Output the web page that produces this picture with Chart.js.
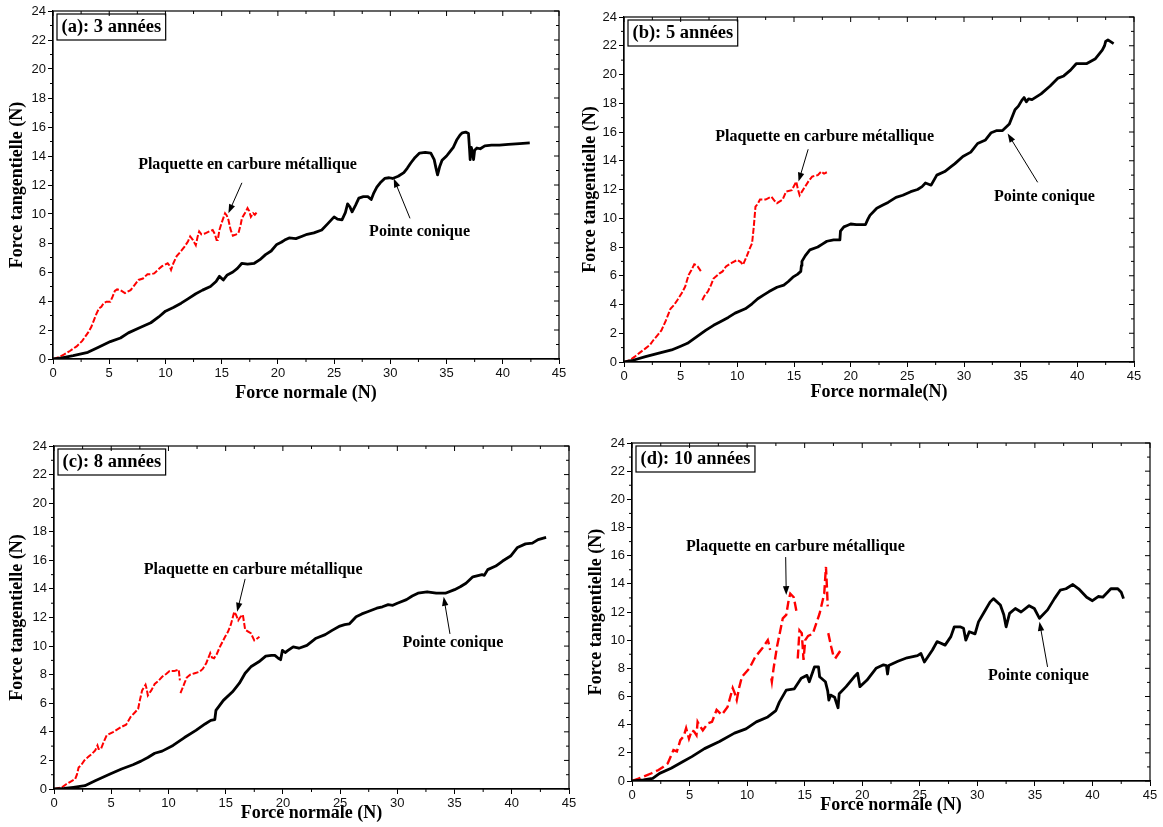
<!DOCTYPE html>
<html lang="fr">
<head>
<meta charset="utf-8">
<title>Force tangentielle en fonction de la force normale</title>
<script src="https://cdn.jsdelivr.net/npm/chart.js@4.4.1/dist/chart.umd.min.js"></script>
<style>
  html, body { margin: 0; padding: 0; background: #fff; }
  body { width: 1163px; height: 827px; position: relative; overflow: hidden; }
  canvas { position: absolute; }
</style>
</head>
<body>
<canvas id="chartA" width="580" height="410" style="left:0;top:0"></canvas>
<canvas id="chartB" width="583" height="410" style="left:580px;top:0"></canvas>
<canvas id="chartC" width="580" height="407" style="left:0;top:420px"></canvas>
<canvas id="chartD" width="583" height="407" style="left:580px;top:420px"></canvas>
<script>
// Axis ticks
const xTicks = [0, 5, 10, 15, 20, 25, 30, 35, 40, 45];
const yTicks = [0, 2, 4, 6, 8, 10, 12, 14, 16, 18, 20, 22, 24];

const panelLabels = ['(a): 3 années', '(b): 5 années', '(c): 8 années', '(d): 10 années'];
const xTitles = ['Force normale (N)', 'Force normale(N)', 'Force normale (N)', 'Force normale (N)'];
const yTitle = 'Force tangentielle (N)';
const carbideName = 'Plaquette en carbure métallique';
const coneName = 'Pointe conique';

// [force normale, force tangentielle] ; null = pen lifted
const coneA = [[0,0],[0.8,0.08],[1.8,0.23],[3.1,0.46],[4.0,0.8],[5.1,1.2],[6.0,1.45],[6.7,1.8],[7.7,2.15],[8.7,2.5],[9.4,2.9],[10,3.3],[10.7,3.55],[11.4,3.85],[12.0,4.15],[12.7,4.5],[13.3,4.75],[14.0,5.0],[14.5,5.35],[14.8,5.7],[15.15,5.45],[15.5,5.8],[16.0,6.0],[16.4,6.25],[16.8,6.6],[17.3,6.55],[17.9,6.6],[18.4,6.85],[18.9,7.2],[19.4,7.45],[19.9,7.9],[20.3,8.05],[20.6,8.2],[21.0,8.35],[21.6,8.3],[22.1,8.45],[22.6,8.6],[23.2,8.7],[23.9,8.9],[24.4,9.3],[25.0,9.8],[25.3,9.65],[25.7,9.6],[26.0,10.1],[26.2,10.7],[26.4,10.5],[26.6,10.15],[26.9,10.6],[27.2,11.1],[27.6,11.2],[28.0,11.2],[28.3,11.0],[28.5,11.4],[28.8,11.85],[29.1,12.15],[29.5,12.45],[29.9,12.5],[30.2,12.45],[30.7,12.6],[31.2,12.85],[31.5,13.15],[31.8,13.5],[32.2,13.9],[32.6,14.2],[33.1,14.25],[33.6,14.2],[33.9,13.75],[34.05,13.2],[34.2,12.7],[34.4,13.3],[34.6,13.7],[35.0,14.0],[35.2,14.2],[35.6,14.6],[35.9,15.1],[36.2,15.45],[36.4,15.6],[36.7,15.65],[36.95,15.55],[37.05,14.4],[37.1,13.75],[37.2,14.6],[37.3,14.3],[37.4,13.75],[37.5,14.4],[37.7,14.55],[38.0,14.5],[38.4,14.7],[39.0,14.75],[39.7,14.75],[40.5,14.8],[41.5,14.85],[42.4,14.9]];
const carbideA = [[0,0],[0.5,0.12],[0.96,0.3],[1.5,0.55],[2.1,0.87],[2.6,1.25],[3.1,1.8],[3.4,2.2],[3.6,2.6],[3.85,3.1],[4.1,3.5],[4.3,3.6],[4.5,3.85],[4.75,3.95],[5.1,3.95],[5.3,4.3],[5.5,4.7],[5.7,4.8],[6.0,4.75],[6.4,4.55],[6.9,4.75],[7.2,5.05],[7.6,5.45],[8.0,5.55],[8.4,5.85],[8.7,5.85],[9.0,5.9],[9.4,6.2],[9.7,6.4],[10.2,6.6],[10.35,6.45],[10.5,6.15],[10.7,6.6],[11.0,7.1],[11.4,7.45],[11.7,7.75],[12.0,8.1],[12.2,8.45],[12.45,8.2],[12.7,7.85],[12.85,8.4],[13.0,8.8],[13.2,8.6],[13.5,8.65],[13.9,8.8],[14.2,8.9],[14.4,8.6],[14.55,8.2],[14.65,8.2],[14.8,8.9],[15.0,9.4],[15.3,10.05],[15.45,9.9],[15.6,9.6],[15.8,8.9],[16.0,8.5],[16.3,8.6],[16.5,8.7],[16.7,9.3],[16.8,9.7],[17.1,10.1],[17.3,10.4],[17.45,10.2],[17.6,9.8],[17.8,10.05],[17.95,9.95],[18.1,10.1]];

const coneB = [[0,0],[0.8,0.12],[1.9,0.37],[3.0,0.6],[4.2,0.84],[5.0,1.1],[5.6,1.3],[6.4,1.75],[7.2,2.2],[7.9,2.55],[8.5,2.8],[9.2,3.1],[9.8,3.4],[10.7,3.7],[11.3,4.05],[11.8,4.4],[12.3,4.65],[12.8,4.9],[13.5,5.2],[14.1,5.35],[14.5,5.6],[14.9,5.9],[15.3,6.1],[15.6,6.3],[15.65,6.7],[15.7,7.0],[16.0,7.4],[16.4,7.8],[17.1,8.0],[17.5,8.2],[17.9,8.4],[18.5,8.5],[19.05,8.5],[19.1,9.1],[19.4,9.4],[19.7,9.5],[20.0,9.6],[20.5,9.55],[21.0,9.55],[21.3,9.55],[21.5,9.9],[21.7,10.2],[22.3,10.7],[22.8,10.9],[23.3,11.1],[24.0,11.45],[24.6,11.6],[25.3,11.85],[25.9,12.0],[26.3,12.2],[26.6,12.45],[27.1,12.3],[27.6,13.0],[28.3,13.25],[28.8,13.55],[29.2,13.8],[29.9,14.3],[30.6,14.6],[31.2,15.2],[31.9,15.45],[32.4,15.95],[32.9,16.1],[33.4,16.1],[34.0,16.55],[34.5,17.55],[34.8,17.8],[35.1,18.2],[35.3,18.4],[35.5,18.1],[35.7,18.3],[36.0,18.25],[36.8,18.65],[37.6,19.2],[38.3,19.75],[38.8,19.9],[39.4,20.3],[39.9,20.75],[40.4,20.75],[40.8,20.75],[41.6,21.1],[42.2,21.7],[42.4,22.0],[42.5,22.3],[42.7,22.4],[42.9,22.3],[43.2,22.15]];
const carbideB = [[0,0],[0.5,0.12],[0.95,0.37],[1.4,0.65],[1.9,0.95],[2.3,1.2],[2.6,1.53],[3.0,1.9],[3.3,2.2],[3.7,2.9],[4.1,3.7],[4.4,3.95],[4.7,4.3],[5.1,4.8],[5.4,5.25],[5.7,6.05],[5.95,6.4],[6.2,6.8],[6.35,6.75],[6.5,6.65],[6.8,6.3],[6.85,null],[6.9,4.3],[7.1,4.6],[7.4,4.9],[7.7,5.4],[7.9,5.8],[8.4,6.15],[8.7,6.3],[9.0,6.65],[9.5,6.9],[10.0,7.1],[10.3,6.95],[10.5,6.75],[10.8,7.3],[11.1,7.9],[11.3,8.25],[11.45,9.4],[11.6,10.8],[11.8,11.0],[12.0,11.3],[12.5,11.3],[13.0,11.5],[13.3,11.2],[13.5,11.05],[14.0,11.3],[14.3,11.85],[14.8,11.95],[15.2,12.55],[15.35,12.0],[15.5,11.6],[15.7,11.85],[15.9,12.1],[16.3,12.6],[16.6,12.9],[17.1,13.0],[17.4,13.25],[17.65,13.1],[17.9,13.2]];

const coneC = [[0,0],[0.9,0.04],[1.7,0.12],[2.7,0.23],[3.6,0.58],[4.9,1.05],[5.9,1.4],[6.9,1.7],[7.6,1.95],[8.2,2.2],[8.8,2.5],[9.45,2.65],[10.4,3.05],[11.4,3.6],[12.4,4.1],[13.2,4.55],[13.7,4.8],[14.05,4.85],[14.15,5.5],[14.8,6.2],[15.6,6.8],[16.2,7.4],[16.7,8.1],[17.2,8.55],[17.9,8.9],[18.5,9.3],[19.0,9.35],[19.3,9.35],[19.6,9.15],[19.8,9.05],[19.96,9.7],[20.2,9.55],[20.45,9.7],[20.9,9.95],[21.4,9.85],[22.1,10.05],[22.9,10.55],[23.7,10.8],[24.3,11.1],[24.98,11.4],[25.4,11.5],[25.8,11.55],[26.4,12.05],[26.9,12.25],[27.4,12.4],[28.2,12.65],[28.7,12.75],[29.2,12.9],[29.6,12.85],[30.0,13.0],[30.8,13.25],[31.3,13.5],[31.8,13.7],[32.6,13.8],[33.4,13.7],[34.2,13.7],[35.0,13.95],[35.5,14.15],[36.0,14.4],[36.6,14.85],[37.4,15.0],[37.6,14.95],[37.9,15.35],[38.6,15.6],[39.2,15.95],[39.9,16.3],[40.5,16.9],[41.2,17.15],[41.8,17.2],[42.3,17.45],[43.0,17.6]];
const carbideC = [[0,0],[0.3,0.05],[0.7,0.12],[1.0,0.3],[1.35,0.47],[1.85,0.7],[2.0,1.0],[2.15,1.5],[2.4,1.7],[2.65,2.0],[3.0,2.25],[3.3,2.45],[3.6,2.7],[3.8,3.05],[3.9,2.8],[4.1,2.8],[4.35,3.3],[4.6,3.75],[5.2,4.0],[5.9,4.35],[6.3,4.5],[6.7,5.05],[7.0,5.3],[7.35,5.6],[7.5,6.2],[7.7,6.9],[8.0,7.3],[8.1,7.0],[8.2,6.55],[8.5,6.9],[8.8,7.35],[9.1,7.55],[9.45,7.85],[9.8,8.05],[10.1,8.25],[10.5,8.25],[10.9,8.35],[11.0,7.6],[11.02,null],[11.05,6.7],[11.4,7.4],[11.6,7.8],[11.9,8.0],[12.3,8.1],[12.7,8.2],[13.0,8.4],[13.3,8.8],[13.65,9.5],[13.8,9.2],[13.98,9.15],[14.2,9.4],[14.5,9.95],[14.95,10.65],[15.2,11.0],[15.45,11.5],[15.75,12.4],[15.9,12.2],[16.1,11.8],[16.3,12.05],[16.5,12.2],[16.7,11.15],[17.0,11.0],[17.2,10.9],[17.5,10.4],[17.7,10.5],[17.95,10.65]];

const coneD = [[0,0],[1.0,0.08],[1.8,0.19],[2.4,0.54],[3.4,0.9],[4.4,1.37],[5.2,1.73],[6.3,2.3],[7.6,2.8],[8.9,3.4],[9.9,3.7],[10.8,4.2],[11.8,4.55],[12.5,5.0],[12.8,5.6],[13.4,6.45],[14.1,6.55],[14.7,7.3],[15.2,7.5],[15.4,7.05],[15.85,8.1],[16.2,8.1],[16.3,7.4],[16.8,7.05],[17.0,6.4],[17.1,5.75],[17.25,6.1],[17.6,5.95],[17.9,5.2],[18.0,6.2],[18.6,6.7],[19.3,7.4],[19.6,7.65],[19.8,6.7],[20.4,7.15],[21.2,8.0],[21.85,8.25],[22.1,8.2],[22.2,7.6],[22.3,8.2],[23.1,8.5],[23.9,8.75],[24.8,8.9],[25.1,9.05],[25.4,8.45],[26.1,9.3],[26.5,9.9],[27.2,9.65],[27.7,10.25],[28.0,10.95],[28.5,10.95],[28.8,10.85],[29.0,10.0],[29.3,10.6],[29.8,10.45],[30.1,11.3],[30.6,12.0],[31.1,12.7],[31.4,12.95],[32.0,12.5],[32.3,11.8],[32.5,10.95],[32.8,11.9],[33.3,12.25],[33.8,12.0],[34.5,12.45],[34.95,12.25],[35.4,11.55],[36.1,12.15],[36.7,12.95],[37.2,13.55],[37.7,13.65],[38.3,13.95],[38.8,13.65],[39.5,13.05],[40.0,12.8],[40.5,13.1],[40.9,13.05],[41.6,13.65],[42.2,13.65],[42.5,13.4],[42.7,12.95]];
const carbideD = [[0,0],[0.5,0.15],[1.1,0.35],[1.7,0.55],[2.3,0.78],[2.7,1.0],[3.1,1.25],[3.4,1.8],[3.6,2.2],[3.9,2.1],[4.2,2.9],[4.5,3.2],[4.7,3.75],[4.85,3.3],[4.95,3.0],[5.2,3.6],[5.4,3.5],[5.6,3.25],[5.7,4.2],[5.9,3.9],[6.15,3.6],[6.6,4.1],[6.95,4.2],[7.35,5.05],[7.8,4.7],[8.3,5.25],[8.75,6.6],[8.9,6.3],[9.1,5.75],[9.3,6.6],[9.55,7.4],[10.2,8.0],[10.7,8.8],[11.3,9.4],[11.8,10.0],[11.9,9.7],[12.0,9.3],[12.05,null],[12.1,7.3],[12.15,7.05],[12.3,8.0],[12.6,9.55],[13.1,11.55],[13.4,11.8],[13.6,12.8],[13.75,13.3],[14.05,13.05],[14.3,12.0],[14.35,null],[14.4,8.7],[14.55,10.7],[14.75,10.5],[14.9,8.6],[15.05,10.0],[15.3,10.3],[15.7,10.45],[16.3,11.9],[16.7,13.3],[16.8,14.6],[16.85,15.2],[16.95,13.5],[17.0,12.4],[17.02,null],[17.05,10.5],[17.3,9.55],[17.55,8.7],[17.6,null],[17.65,8.7],[18.1,9.25]];

// canvas layout, annotation anchors (data units) and dash style per panel
const panels = [
  { id: 'chartA', cone: coneA, carbide: carbideA, dash: [6, 2], redWidth: 2,
    pad: { top: 11, right: 21 }, yWidth: 53, xHeight: 51, yTitlePad: 7, xTitlePad: 6,
    carbideNote: { text: [17.3, 13.4], from: [16.8, 12.15], to: [15.6, 10.05] },
    coneNote: { text: [32.6, 8.8], from: [31.75, 9.7], to: [30.3, 12.45] } },
  { id: 'chartB', cone: coneB, carbide: carbideB, dash: [6, 2], redWidth: 2,
    pad: { top: 17, right: 29 }, yWidth: 44, xHeight: 48, yTitlePad: 0, xTitlePad: 7,
    carbideNote: { text: [17.7, 15.65], from: [16.25, 14.8], to: [15.4, 12.55] },
    coneNote: { text: [37.1, 11.5], from: [36.5, 12.5], to: [33.85, 15.9] } },
  { id: 'chartC', cone: coneC, carbide: carbideC, dash: [6, 2], redWidth: 2,
    pad: { top: 26, right: 11 }, yWidth: 54, xHeight: 38, yTitlePad: 7, xTitlePad: 3,
    carbideNote: { text: [17.4, 15.3], from: [16.7, 14.7], to: [16.0, 12.4] },
    coneNote: { text: [34.85, 10.2], from: [34.6, 10.85], to: [34.05, 13.45] } },
  { id: 'chartD', cone: coneD, carbide: carbideD, dash: [9, 4], redWidth: 2.4,
    pad: { top: 23, right: 13 }, yWidth: 52, xHeight: 46, yTitlePad: 6, xTitlePad: 11,
    carbideNote: { text: [14.2, 16.6], from: [13.35, 15.9], to: [13.4, 13.2] },
    coneNote: { text: [35.3, 7.45], from: [36.1, 8.1], to: [35.4, 11.3] } }
];

const serif = '"Liberation Serif", "Times New Roman", serif';
const sans = '"Liberation Sans", Arial, sans-serif';

function drawArrow(ctx, x0, y0, x1, y1) {
  const ang = Math.atan2(y1 - y0, x1 - x0);
  ctx.beginPath();
  ctx.moveTo(x0, y0);
  ctx.lineTo(x1 - 6 * Math.cos(ang), y1 - 6 * Math.sin(ang));
  ctx.stroke();
  ctx.beginPath();
  ctx.moveTo(x1, y1);
  ctx.lineTo(x1 - 9 * Math.cos(ang) + 3.2 * Math.sin(ang), y1 - 9 * Math.sin(ang) - 3.2 * Math.cos(ang));
  ctx.lineTo(x1 - 9 * Math.cos(ang) - 3.2 * Math.sin(ang), y1 - 9 * Math.sin(ang) + 3.2 * Math.cos(ang));
  ctx.closePath();
  ctx.fill();
}

// box frame, minor ticks, mirrored ticks, panel label and curve notes
const panelDecor = {
  id: 'panelDecor',
  afterDatasetsDraw(chart, args, opts) {
    const { ctx, chartArea: a, scales: { x, y } } = chart;
    ctx.save();
    ctx.strokeStyle = '#000';
    ctx.fillStyle = '#000';
    ctx.lineWidth = 1.2;
    ctx.strokeRect(a.left, a.top, a.right - a.left, a.bottom - a.top);

    ctx.lineWidth = 1;
    ctx.beginPath();
    for (let i = 0; i < xTicks.length - 1; i++) {
      const mid = x.getPixelForValue((xTicks[i] + xTicks[i + 1]) / 2);
      ctx.moveTo(mid, a.bottom); ctx.lineTo(mid, a.bottom + 3);
      ctx.moveTo(mid, a.top); ctx.lineTo(mid, a.top + 3);
    }
    xTicks.forEach(v => {
      const px = x.getPixelForValue(v);
      ctx.moveTo(px, a.top); ctx.lineTo(px, a.top + 5);
    });
    for (let i = 0; i < yTicks.length - 1; i++) {
      const mid = y.getPixelForValue((yTicks[i] + yTicks[i + 1]) / 2);
      ctx.moveTo(a.left, mid); ctx.lineTo(a.left - 3, mid);
      ctx.moveTo(a.right, mid); ctx.lineTo(a.right - 3, mid);
    }
    yTicks.forEach(v => {
      const py = y.getPixelForValue(v);
      ctx.moveTo(a.right, py); ctx.lineTo(a.right - 5, py);
    });
    ctx.stroke();

    // panel label in a box
    ctx.font = 'bold 18.5px ' + serif;
    ctx.textBaseline = 'middle';
    ctx.textAlign = 'left';
    const w = ctx.measureText(opts.label).width;
    const bx = a.left + 4, by = a.top + 3;
    ctx.lineWidth = 1.2;
    ctx.strokeRect(bx, by, w + 9, 26);
    ctx.fillText(opts.label, bx + 4.5, by + 13.5);

    // notes with arrows
    ctx.font = 'bold 16px ' + serif;
    ctx.textAlign = 'center';
    ctx.lineWidth = 1;
    [[carbideName, opts.carbideNote], [coneName, opts.coneNote]].forEach(([txt, n]) => {
      ctx.fillText(txt, x.getPixelForValue(n.text[0]), y.getPixelForValue(n.text[1]));
      drawArrow(ctx, x.getPixelForValue(n.from[0]), y.getPixelForValue(n.from[1]),
        x.getPixelForValue(n.to[0]), y.getPixelForValue(n.to[1]));
    });
    ctx.restore();
  }
};

const toPoints = pairs => pairs.map(([x, y]) => ({ x, y }));

panels.forEach((p, i) => {
  new Chart(document.getElementById(p.id), {
    type: 'line',
    data: {
      datasets: [
        {
          label: coneName,
          data: toPoints(p.cone),
          borderColor: '#000',
          borderWidth: 2.8,
          pointRadius: 0,
          tension: 0,
          borderJoinStyle: 'round',
          spanGaps: false
        },
        {
          label: carbideName,
          data: toPoints(p.carbide),
          borderColor: '#ff0000',
          borderWidth: p.redWidth,
          borderDash: p.dash,
          pointRadius: 0,
          tension: 0,
          spanGaps: false
        }
      ]
    },
    options: {
      responsive: false,
      animation: false,
      layout: { padding: { left: 0, top: p.pad.top, right: p.pad.right, bottom: 0 } },
      plugins: {
        legend: { display: false },
        tooltip: { enabled: false },
        panelDecor: {
          label: panelLabels[i],
          carbideNote: p.carbideNote,
          coneNote: p.coneNote
        }
      },
      scales: {
        x: {
          type: 'linear',
          min: 0,
          max: 45,
          afterBuildTicks: scale => { scale.ticks = xTicks.map(v => ({ value: v })); },
          afterFit: scale => { scale.height = p.xHeight; },
          ticks: { font: { family: sans, size: 13 }, color: '#111', padding: 2, maxRotation: 0 },
          grid: { drawOnChartArea: false, drawTicks: true, tickLength: 5, color: '#000' },
          border: { display: true, color: '#000', width: 1.2 },
          title: {
            display: true,
            text: xTitles[i],
            color: '#000',
            font: { family: serif, size: 18, weight: 'bold' },
            padding: { top: 0, bottom: p.xTitlePad }
          }
        },
        y: {
          type: 'linear',
          min: 0,
          max: 24,
          afterBuildTicks: scale => { scale.ticks = yTicks.map(v => ({ value: v })); },
          afterFit: scale => { scale.width = p.yWidth; },
          ticks: { font: { family: sans, size: 13 }, color: '#111', padding: 2 },
          grid: { drawOnChartArea: false, drawTicks: true, tickLength: 5, color: '#000' },
          border: { display: true, color: '#000', width: 1.2 },
          title: {
            display: true,
            text: yTitle,
            color: '#000',
            font: { family: serif, size: 18, weight: 'bold' },
            padding: { top: p.yTitlePad, bottom: 0 }
          }
        }
      }
    },
    plugins: [panelDecor]
  });
});
</script>
</body>
</html>
